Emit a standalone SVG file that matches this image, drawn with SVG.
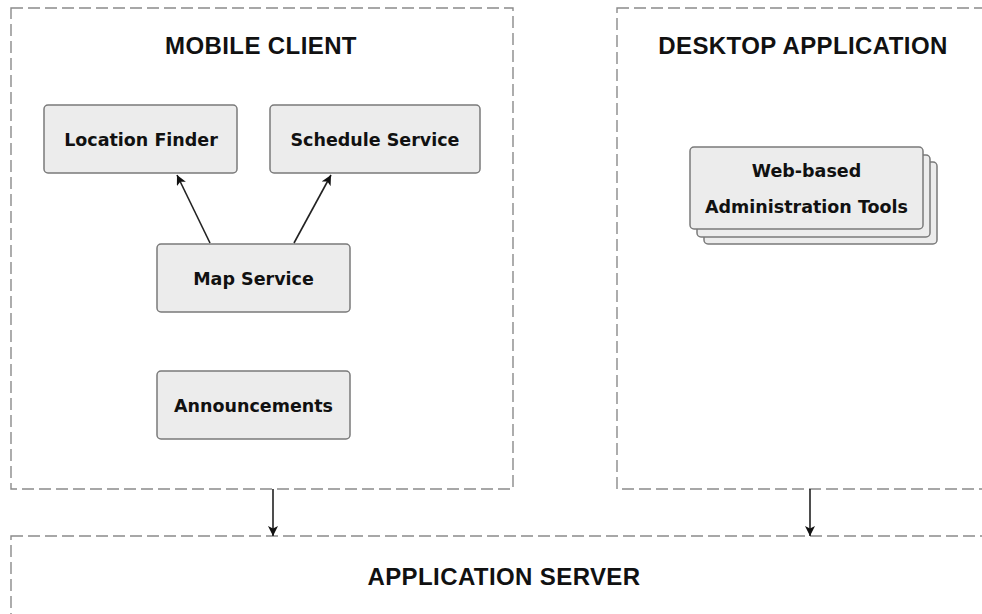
<svg xmlns="http://www.w3.org/2000/svg" width="982" height="614" viewBox="0 0 982 614">
  <defs>
    <marker id="arrow" viewBox="0 0 10 10" refX="10" refY="5" markerWidth="10" markerHeight="10" markerUnits="userSpaceOnUse" orient="auto">
      <path d="M0,0 L10,5 L0,10 L2.5,5 Z" fill="#111"/>
    </marker>
  </defs>
  <style>
    .zone { fill: none; stroke: #8a8a8a; stroke-width: 1.4; stroke-dasharray: 12 5; }
    .zone-title { font-family: "Liberation Sans", Arial, sans-serif; font-weight: bold; font-size: 24px; letter-spacing: 0.4px; fill: #111; text-anchor: middle; }
    .box { fill: #ececec; stroke: #7a7a7a; stroke-width: 1.5; }
    .label { font-family: "DejaVu Sans", Verdana, sans-serif; font-weight: bold; font-size: 17.5px; fill: #111; text-anchor: middle; }
    .link { stroke: #222; stroke-width: 1.6; fill: none; marker-end: url(#arrow); }
  </style>
  <rect width="982" height="614" fill="#ffffff"/>

  <!-- tiers -->
  <g id="mobile-client">
    <rect class="zone" x="11" y="8" width="502" height="481"/>
    <text class="zone-title" x="261" y="54">MOBILE CLIENT</text>
  </g>
  <g id="desktop-application">
    <rect class="zone" x="617" y="8" width="380" height="481"/>
    <text class="zone-title" x="803" y="54">DESKTOP APPLICATION</text>
  </g>
  <g id="application-server">
    <rect class="zone" x="11" y="536" width="990" height="100"/>
    <text class="zone-title" x="504" y="585">APPLICATION SERVER</text>
  </g>

  <!-- mobile components -->
  <g id="location-finder">
    <rect class="box" x="44" y="105" width="193" height="68" rx="4"/>
    <text class="label" x="141" y="146">Location Finder</text>
  </g>
  <g id="schedule-service">
    <rect class="box" x="270" y="105" width="210" height="68" rx="4"/>
    <text class="label" x="375" y="146">Schedule Service</text>
  </g>
  <g id="map-service">
    <rect class="box" x="157" y="244" width="193" height="68" rx="4"/>
    <text class="label" x="253.5" y="285">Map Service</text>
  </g>
  <g id="announcements">
    <rect class="box" x="157" y="371" width="193" height="68" rx="4"/>
    <text class="label" x="253.5" y="412">Announcements</text>
  </g>

  <!-- desktop components (stacked) -->
  <g id="admin-tools">
    <rect class="box" x="704" y="162" width="233" height="82" rx="4"/>
    <rect class="box" x="697" y="155" width="233" height="82" rx="4"/>
    <rect class="box" x="690" y="147" width="233" height="82" rx="4"/>
    <text class="label" x="806.5" y="177">Web-based</text>
    <text class="label" x="806.5" y="213">Administration Tools</text>
  </g>

  <!-- connectors -->
  <g id="connectors">
    <line class="link" x1="210" y1="243" x2="177" y2="175"/>
    <line class="link" x1="294" y1="243" x2="331" y2="175"/>
    <line class="link" x1="273" y1="489" x2="273" y2="536"/>
    <line class="link" x1="810" y1="489" x2="810" y2="536"/>
  </g>
</svg>
